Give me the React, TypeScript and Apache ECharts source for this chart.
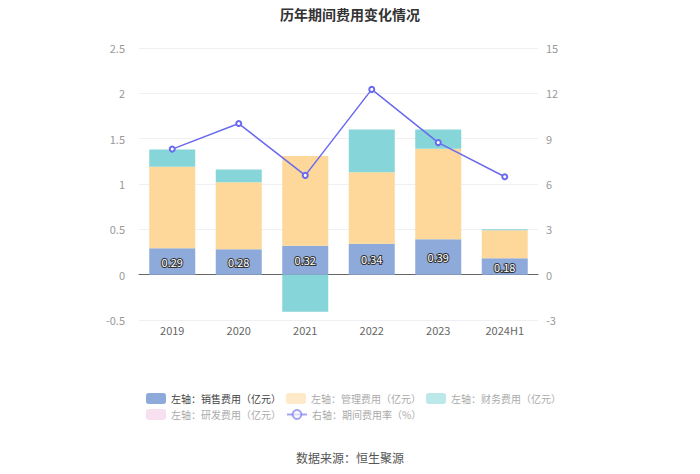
import React, { useEffect, useRef } from "react";
import * as echarts from "echarts";

const categories = ["2019", "2020", "2021", "2022", "2023", "2024H1"];
const salesExp = [0.29, 0.28, 0.32, 0.34, 0.39, 0.18];
const mgmtExp = [0.9, 0.74, 0.99, 0.79, 1.0, 0.31];
const finExp = [0.19, 0.14, -0.41, 0.47, 0.21, 0.01];
const rdExp = [0, 0, 0, 0, 0, 0];
const expRate = [8.31, 10.0, 6.57, 12.26, 8.74, 6.48];

export default function App() {
  const ref = useRef<HTMLDivElement>(null);
  useEffect(() => {
    if (!ref.current) return;
    const chart = echarts.init(ref.current, null, { renderer: "svg" });
    const font = "'Microsoft YaHei', 'Noto Sans CJK SC', sans-serif";
    chart.setOption({
      animation: false,
      textStyle: { fontFamily: font },
      title: {
        text: "历年期间费用变化情况",
        left: "center",
        top: 2,
        textStyle: { fontSize: 14, fontWeight: "bold", color: "#333", fontFamily: font },
      },
      graphic: [
        {
          type: "text",
          left: "center",
          top: 451,
          style: { text: "数据来源：恒生聚源", fontSize: 12, fill: "#555", fontFamily: font },
        },
      ],
      legend: {
        left: 141,
        top: 388,
        width: 428,
        itemWidth: 20,
        itemHeight: 11,
        itemGap: 5,
        textStyle: { fontSize: 10, color: "#aaa", fontFamily: font },
        data: [
          { name: "左轴：销售费用（亿元）", textStyle: { color: "#444" } },
          { name: "左轴：管理费用（亿元）", itemStyle: { opacity: 0.55 } },
          { name: "左轴：财务费用（亿元）", itemStyle: { opacity: 0.55 } },
          { name: "左轴：研发费用（亿元）", itemStyle: { opacity: 0.55 } },
          { name: "右轴：期间费用率（%）", itemStyle: { opacity: 0.6 }, lineStyle: { opacity: 0.6 } },
        ],
      },
      grid: { left: 139, right: 162, top: 48, bottom: 154 },
      xAxis: {
        type: "category",
        data: categories,
        axisLine: { onZero: true, lineStyle: { color: "#666" } },
        axisTick: { alignWithLabel: true, lineStyle: { color: "#666" } },
        axisLabel: { color: "#666", fontSize: 11, margin: 4 },
      },
      yAxis: [
        {
          type: "value",
          min: -0.5,
          max: 2.5,
          interval: 0.5,
          axisLine: { show: false },
          axisTick: { show: false },
          axisLabel: { color: "#999", fontSize: 11, margin: 14 },
          splitLine: { lineStyle: { color: "#eef0f4" } },
        },
        {
          type: "value",
          min: -3,
          max: 15,
          interval: 3,
          axisLine: { show: false },
          axisTick: { show: false },
          axisLabel: { color: "#999", fontSize: 11, margin: 8 },
          splitLine: { show: false },
        },
      ],
      series: [
        {
          name: "左轴：销售费用（亿元）",
          type: "bar",
          stack: "pos",
          barWidth: 46,
          data: salesExp,
          itemStyle: { color: "#8eaadb" },
          label: {
            show: true,
            position: "inside",
            color: "#fff",
            fontSize: 11,
            textBorderColor: "#333",
            textBorderWidth: 2,
          },
        },
        {
          name: "左轴：管理费用（亿元）",
          type: "bar",
          stack: "pos",
          data: mgmtExp,
          itemStyle: { color: "#fdd89a" },
        },
        {
          name: "左轴：财务费用（亿元）",
          type: "bar",
          stack: "pos",
          data: finExp,
          itemStyle: { color: "#86d5d8" },
        },
        {
          name: "左轴：研发费用（亿元）",
          type: "bar",
          stack: "pos",
          data: rdExp,
          itemStyle: { color: "#f0c8e4" },
        },
        {
          name: "右轴：期间费用率（%）",
          type: "line",
          yAxisIndex: 1,
          data: expRate,
          symbol: "emptyCircle",
          symbolSize: 5,
          itemStyle: { color: "#6a6aee" },
          lineStyle: { color: "#6a6aee", width: 1.5 },
        },
      ],
    });
    return () => chart.dispose();
  }, []);
  return <div ref={ref} style={{ width: 700, height: 474, position: "absolute", left: 0, top: 0 }} />;
}
